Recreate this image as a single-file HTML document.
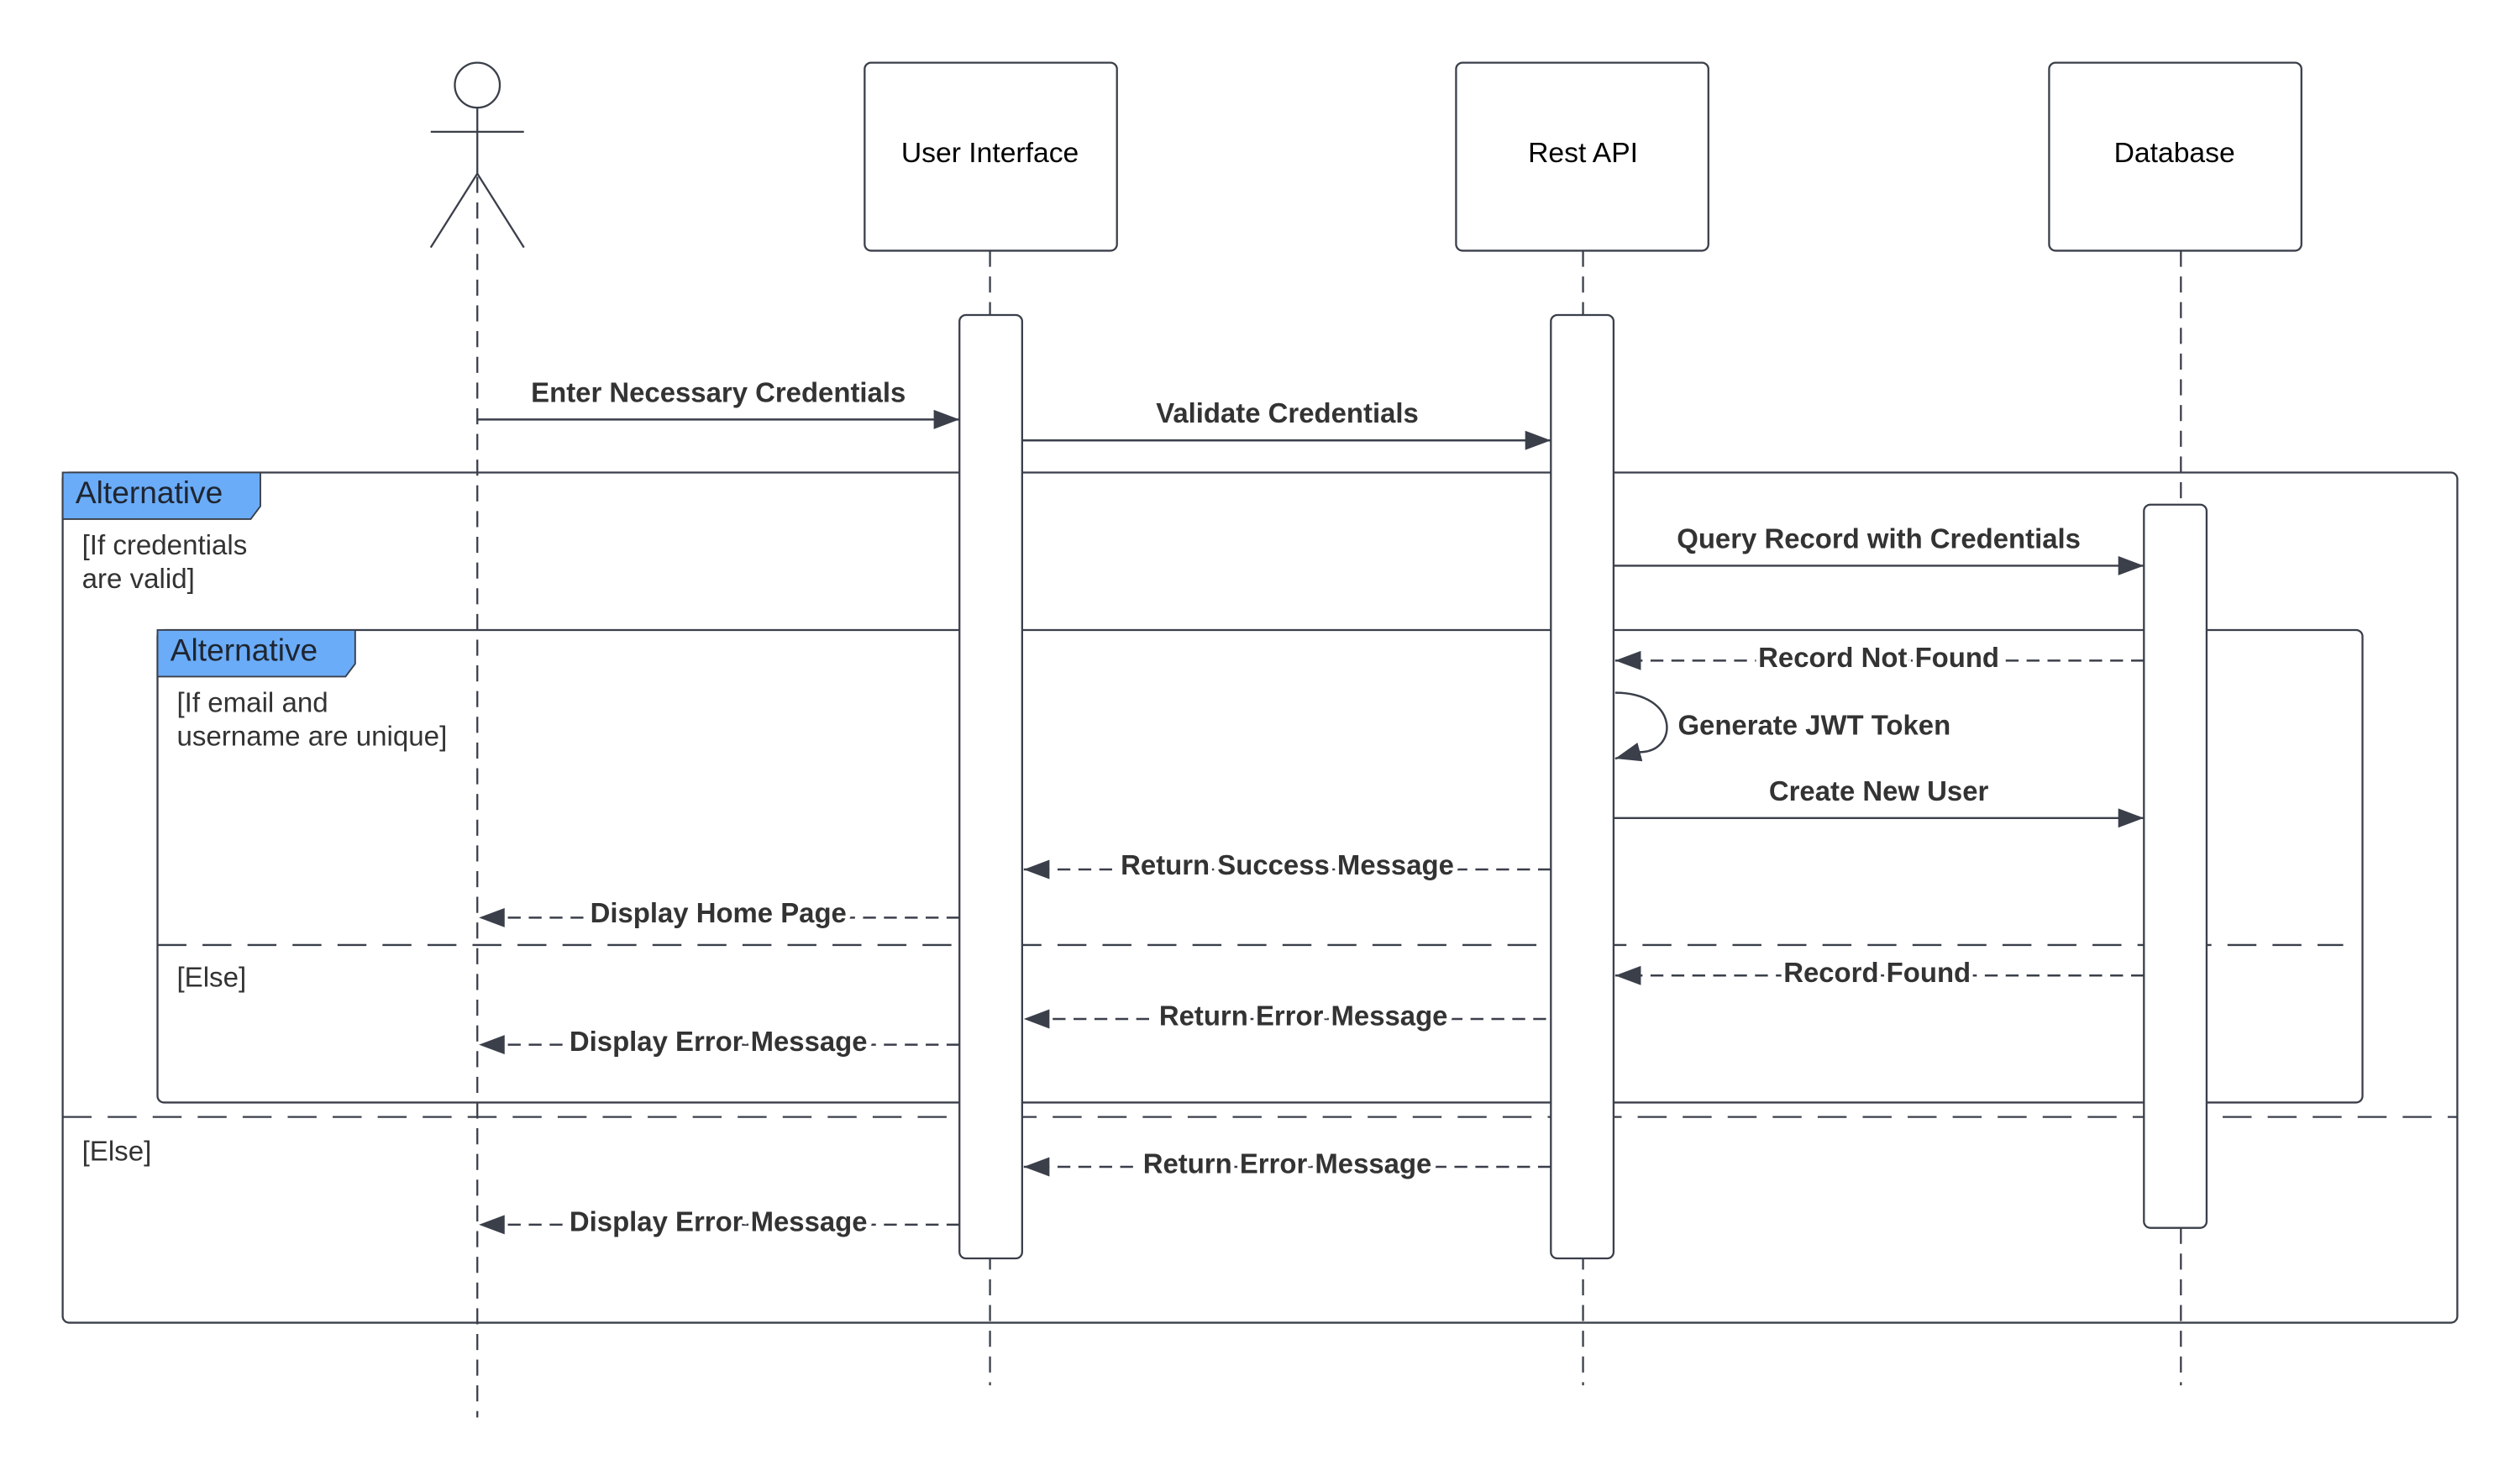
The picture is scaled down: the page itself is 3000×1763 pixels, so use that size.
<!DOCTYPE html>
<html><head><meta charset="utf-8"><style>
html,body{margin:0;padding:0;background:#fff}
svg{display:block}
text{font-family:"Liberation Sans",Arial,sans-serif}
.b{font-weight:bold;font-size:17.2px;fill:#333;text-anchor:middle}
.lb{paint-order:stroke;stroke:#fff;stroke-width:5px}
.g{font-size:17.3px;fill:#333}
.t{font-size:19.4px;fill:#1f2530}
</style></head><body>
<svg width="3000" height="1763" viewBox="0 0 1568 921.5" preserveAspectRatio="none" xmlns="http://www.w3.org/2000/svg">
<defs>
<marker id="a" viewBox="0 0 16 12" refX="16" refY="6" markerWidth="16" markerHeight="12" markerUnits="userSpaceOnUse" orient="auto"><path d="M0,0 L16,6 L0,12 z" fill="#3a3f4a"/></marker>
</defs>
<rect width="1568" height="922" fill="#fff"/>
<g fill="none" stroke="#3a3f4a" stroke-width="1.2">
<rect x="39" y="294" width="1490" height="529" rx="4"/>
<line x1="39" y1="695" x2="1529" y2="695" stroke-dasharray="18,10"/>
<rect x="98" y="392" width="1372" height="294" rx="4"/>
<line x1="98" y1="588" x2="1458" y2="588" stroke-dasharray="18,10"/>
</g>
<path d="M39,294 H162 V315 L156,323 H39 Z" fill="#6aacf8" stroke="#3a3f4a" stroke-width="1"/>
<path d="M98,392 H221 V413 L215,421 H98 Z" fill="#6aacf8" stroke="#3a3f4a" stroke-width="1"/>
<text class="t" x="47" y="313">Alternative</text>
<text class="t" x="106" y="411">Alternative</text>
<text class="g" x="51" y="345">[If credentials</text>
<text class="g" x="51" y="366">are valid]</text>
<text class="g" x="110" y="443">[If email and</text>
<text class="g" x="110" y="464">username are unique]</text>
<text class="g" x="110" y="614">[Else]</text>
<text class="g" x="51" y="722">[Else]</text>

<g fill="none" stroke="#3a3f4a" stroke-width="1.2">
<circle cx="297" cy="53" r="14" fill="#fff"/>
<line x1="297" y1="67" x2="297" y2="108"/>
<line x1="268" y1="82" x2="326" y2="82"/>
<path d="M268,154 L297,108 L326,154"/>
<line x1="297" y1="110" x2="297" y2="882" stroke-dasharray="10,6"/>
<line x1="616" y1="156" x2="616" y2="862" stroke-dasharray="10,6"/>
<line x1="985" y1="156" x2="985" y2="862" stroke-dasharray="10,6"/>
<line x1="1357" y1="156" x2="1357" y2="862" stroke-dasharray="10,6"/>
<rect x="538" y="39" width="157" height="117" rx="4" fill="#fff"/>
<rect x="906" y="39" width="157" height="117" rx="4" fill="#fff"/>
<rect x="1275" y="39" width="157" height="117" rx="4" fill="#fff"/>
<rect x="597" y="196" width="39" height="587" rx="4" fill="#fff"/>
<rect x="965" y="196" width="39" height="587" rx="4" fill="#fff"/>
<rect x="1334" y="314" width="39" height="450" rx="4" fill="#fff"/>
</g>
<text x="616" y="101" font-size="17.6" text-anchor="middle" fill="#000">User Interface</text>
<text x="985" y="101" font-size="17.6" text-anchor="middle" fill="#000">Rest API</text>
<text x="1353" y="101" font-size="17.6" text-anchor="middle" fill="#000">Database</text>

<g stroke="#3a3f4a" stroke-width="1.3" fill="none">
<line x1="297" y1="261" x2="597" y2="261" marker-end="url(#a)"/>
<line x1="636" y1="274" x2="965" y2="274" marker-end="url(#a)"/>
<line x1="1004" y1="352" x2="1334" y2="352" marker-end="url(#a)"/>
<line x1="1334" y1="411" x2="1005" y2="411" stroke-dasharray="8,5" marker-end="url(#a)"/>
<path d="M1005,431 C1045,431 1045,468 1020,468" />
<line x1="1020" y1="468" x2="1005" y2="472" marker-end="url(#a)"/>
<line x1="1004" y1="509" x2="1334" y2="509" marker-end="url(#a)"/>
<line x1="965" y1="541" x2="637" y2="541" stroke-dasharray="8,5" marker-end="url(#a)"/>
<line x1="597" y1="571" x2="298" y2="571" stroke-dasharray="8,5" marker-end="url(#a)"/>
<line x1="1334" y1="607" x2="1005" y2="607" stroke-dasharray="8,5" marker-end="url(#a)"/>
<line x1="962" y1="634" x2="637" y2="634" stroke-dasharray="8,5" marker-end="url(#a)"/>
<line x1="597" y1="650" x2="298" y2="650" stroke-dasharray="8,5" marker-end="url(#a)"/>
<line x1="965" y1="726" x2="637" y2="726" stroke-dasharray="8,5" marker-end="url(#a)"/>
<line x1="597" y1="762" x2="298" y2="762" stroke-dasharray="8,5" marker-end="url(#a)"/>
</g>
<text class="b" x="447" y="250">Enter Necessary Credentials</text>
<text class="b" x="801" y="263">Validate Credentials</text>
<text class="b" x="1169" y="341">Query Record with Credentials</text>
<text class="b lb" x="1169" y="415">Record Not Found</text>
<text class="b" x="1044" y="457" style="text-anchor:start">Generate JWT Token</text>
<text class="b" x="1169" y="498">Create New User</text>
<text class="b lb" x="801" y="544">Return Success Message</text>
<text class="b lb" x="447" y="574">Display Home Page</text>
<text class="b lb" x="1168" y="611">Record Found</text>
<text class="b lb" x="811" y="638">Return Error Message</text>
<text class="b lb" x="447" y="654">Display Error Message</text>
<text class="b lb" x="801" y="730">Return Error Message</text>
<text class="b lb" x="447" y="766">Display Error Message</text>
</svg>
</body></html>
